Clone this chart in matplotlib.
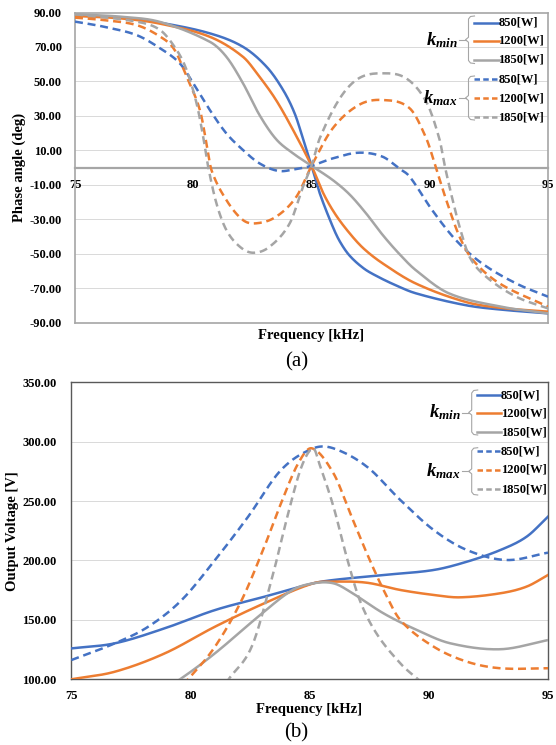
import numpy as np
import matplotlib
matplotlib.use("Agg")
import matplotlib.pyplot as plt
from matplotlib.lines import Line2D

plt.rcParams['font.family'] = ['Liberation Serif', 'DejaVu Serif']
plt.rcParams['font.weight'] = 'bold'
plt.rcParams['mathtext.fontset'] = 'custom'
plt.rcParams['mathtext.it'] = 'Liberation Serif:italic:bold'
plt.rcParams['mathtext.rm'] = 'Liberation Serif:bold'

# ---------------- data: phase angle (a) ----------------
f_pa_kmin_850 = [75, 77, 78.6, 80.7, 82.1, 83.1, 83.8, 84.3, 84.7, 85, 85.35, 85.9, 86.2, 86.6, 87.2, 87.75, 88.5, 89.4, 91.5, 93, 95]
pa_kmin_850 = [88.5, 87, 84.1, 77.9, 70.1, 58.5, 45, 31, 14, 1, -15, -34.4, -43, -51, -58.5, -63, -68, -73, -79.9, -82.5, -84.7]

f_pa_kmin_1200 = [75, 77, 78.6, 80.7, 82.1, 82.8, 83.5, 84.22, 85, 85.5, 86.0, 86.6, 87.2, 88, 89.4, 91.5, 93, 95]
pa_kmin_1200 = [88, 86.5, 83.5, 75.9, 64.3, 52.7, 39.2, 21.8, 1, -15, -27, -38, -47, -55.6, -67.3, -78, -81.5, -83.7]

f_pa_kmin_1850 = [75, 77, 78.6, 80.7, 81.4, 82.1, 82.8, 83.5, 84.22, 85, 85.9, 86.6, 87.3, 88, 88.7, 89.4, 90.8, 93, 95]
pa_kmin_1850 = [89, 87.5, 84.5, 73, 64.3, 49, 30.5, 16.5, 8.2, 1, -7.3, -15.5, -26.5, -39, -50, -59.5, -73, -80.8, -84.7]

f_pa_kmax_850 = [75, 76.2, 77.6, 78.6, 79.43, 80.0, 80.7, 81.4, 82.1, 82.8, 83.6, 84.3, 85, 85.9, 87, 88, 88.7, 89.15, 90.1, 91.1, 92.2, 93.65, 95]
pa_kmax_850 = [84.7, 81.8, 76.9, 69.2, 60.5, 48.9, 33.4, 19.8, 10.2, 2.4, -2, -1, 1, 5.3, 8.6, 6.3, -0.5, -5.3, -24.7, -42.1, -55.6, -67.3, -75]

f_pa_kmax_1200 = [75, 76.2, 77.6, 78.6, 79.2, 79.72, 80.28, 80.56, 80.77, 81.4, 82.1, 82.67, 83.5, 84.36, 85, 85.9, 87, 88, 89.15, 89.85, 90.27, 90.7, 91.26, 91.82, 92.95, 95]
pa_kmax_1200 = [87, 85.6, 82.7, 76, 68.5, 52.7, 33.4, 14, -1.5, -18.9, -30.5, -32.4, -28.6, -17, 1, 22.8, 36.3, 39.2, 34.4, 17, -0.5, -19, -40.2, -53.7, -67.3, -80.8]

f_pa_kmax_1850 = [75, 77.6, 78.6, 79.3, 79.72, 80.14, 80.42, 80.63, 80.98, 81.4, 81.97, 82.53, 83.23, 84.08, 84.64, 85, 85.35, 86.2, 87, 88, 89, 89.85, 90.4, 90.65, 90.9, 91.26, 91.68, 92.38, 93.65, 95]
pa_kmax_1850 = [89, 84.7, 79.8, 68.2, 56.6, 37.3, 17.9, 0.5, -20.8, -36.3, -46, -49.5, -46, -32.4, -11.2, 1, 17, 40.2, 51.8, 54.7, 51.8, 38.2, 17, 0, -15, -34.4, -51.8, -63.4, -75, -81.8]

# ---------------- data: output voltage (b) ----------------
f_v_kmin_850 = [75, 76.83, 78.93, 81.03, 83.1, 85.15, 86, 88.1, 90.2, 91.6, 93, 94.1, 95]
v_kmin_850 = [126, 130.3, 143, 158.3, 169.5, 180.8, 183.6, 187.8, 192, 199, 208.8, 220, 236.9]

f_v_kmin_1200 = [75, 76.83, 78.93, 81.03, 83.1, 85.15, 86, 87.4, 88.8, 90.2, 91.3, 93, 94.1, 95]
v_kmin_1200 = [100, 106.4, 121.9, 144.3, 164, 180.8, 182.2, 181.3, 175.2, 171, 169, 172.4, 178, 187.8]

f_v_kmin_1850 = [79.0, 79.56, 81.03, 82.84, 84.25, 85.15, 86, 86.7, 88.1, 89.5, 90.9, 93, 95]
v_kmin_1850 = [94, 100, 121.9, 152.7, 174.8, 180.8, 180.8, 173.7, 155.5, 141.5, 130.3, 125.3, 133]

f_v_kmax_850 = [75, 76.83, 78.23, 79.63, 81.03, 82.42, 83.8, 85.15, 86, 87.4, 88.8, 90.2, 91.6, 93.26, 95]
v_kmax_850 = [116.2, 130.3, 144.3, 166.7, 200.4, 236.9, 276.2, 294.4, 294.4, 279, 251, 225.7, 208.8, 200.4, 206.6]

f_v_kmax_1200 = [79.3, 79.9, 81.03, 82.15, 83.1, 83.8, 84.52, 85.1, 86, 86.7, 87.4, 88.1, 88.8, 90.2, 91.6, 93, 95]
v_kmax_1200 = [88, 100, 127.5, 166.7, 211.7, 248.2, 281.8, 294.4, 273.4, 239.7, 206, 175.2, 150, 127.5, 114.8, 109.3, 109.3]

f_v_kmax_1850 = [81.2, 81.6, 82.57, 83.4, 84.1, 84.66, 85.15, 85.4, 86, 86.55, 87.1, 87.8, 88.8, 89.5, 90.0]
v_kmax_1850 = [88, 100, 127.5, 183.6, 239.7, 279, 294.4, 281.8, 245.3, 203.2, 166.7, 138.7, 113.5, 100.8, 93]

series_labels = ['850[W]', '1200[W]', '1850[W]']
colors = ['#4472C4', '#ED7D31', '#A5A5A5']

x_ticks = [75, 80, 85, 90, 95]
pa_ticks = [-90, -70, -50, -30, -10, 10, 30, 50, 70, 90]
v_ticks = [100, 150, 200, 250, 300, 350]

W, H = 556, 745


def smooth(x, y, n=30):
    """Cubic Hermite drawing of the points with finite-difference tangents (Excel-like smooth line)."""
    x = np.asarray(x, float)
    y = np.asarray(y, float)
    m = np.empty_like(y)
    m[1:-1] = (y[2:] - y[:-2]) / (x[2:] - x[:-2])
    m[0] = (y[1] - y[0]) / (x[1] - x[0])
    m[-1] = (y[-1] - y[-2]) / (x[-1] - x[-2])
    xs, ys = [], []
    for i in range(len(x) - 1):
        h = x[i + 1] - x[i]
        t = np.linspace(0, 1, n, endpoint=False)
        h00 = 2 * t ** 3 - 3 * t ** 2 + 1
        h10 = t ** 3 - 2 * t ** 2 + t
        h01 = -2 * t ** 3 + 3 * t ** 2
        h11 = t ** 3 - t ** 2
        xs.append(x[i] + t * h)
        ys.append(h00 * y[i] + h10 * h * m[i] + h01 * y[i + 1] + h11 * h * m[i + 1])
    xs.append([x[-1]])
    ys.append([y[-1]])
    return np.concatenate(xs), np.concatenate(ys)


def fx(px):
    return px / W


def fy(py):
    return 1 - py / H


fig = plt.figure(figsize=(W / 100, H / 100), dpi=100)

LW = 1.8
DASH = (3.2, 1.9)

# ---------- (a) ----------
ax1 = fig.add_axes([fx(75), fy(322.5), fx(548) - fx(75), fy(12.5) - fy(322.5)])
pa_sets = [(f_pa_kmin_850, pa_kmin_850), (f_pa_kmin_1200, pa_kmin_1200), (f_pa_kmin_1850, pa_kmin_1850)]
pa_sets_max = [(f_pa_kmax_850, pa_kmax_850), (f_pa_kmax_1200, pa_kmax_1200), (f_pa_kmax_1850, pa_kmax_1850)]
for (xs, ys), c in zip(pa_sets, colors):
    sx, sy = smooth(xs, ys)
    ax1.plot(sx, sy, color=c, lw=LW, zorder=3)
for (xs, ys), c in zip(pa_sets_max, colors):
    sx, sy = smooth(xs, ys)
    ax1.plot(sx, sy, color=c, lw=LW, dashes=DASH, zorder=3)
ax1.set_xlim(75, 95)
ax1.set_ylim(-90, 90)
ax1.set_xticks(x_ticks)
ax1.set_yticks(pa_ticks)
ax1.set_yticklabels([f'{v:.2f}' for v in pa_ticks])
for v in pa_ticks[1:-1]:
    ax1.axhline(v, color='#D9D9D9', lw=0.7, zorder=1)
for s in ['top', 'left', 'right']:
    ax1.spines[s].set_color('#A6A6A6')
    ax1.spines[s].set_linewidth(1.2)
ax1.spines['bottom'].set_position(('data', 0))
ax1.spines['bottom'].set_color('#A6A6A6')
ax1.spines['bottom'].set_linewidth(1.6)
ax1.plot([0, 1], [0, 0], transform=ax1.transAxes, color='#A6A6A6', lw=1.2, clip_on=False, zorder=4)
ax1.tick_params(axis='both', length=0, labelsize=9)
ax1.tick_params(axis='x', pad=8)
ax1.tick_params(axis='y', pad=9.5)

fig.text(fx(19), fy(167.5), 'Phase angle (deg)', rotation=90, ha='center', va='center', fontsize=10.5, fontweight='bold')
fig.text(fx(311.5), fy(335), 'Frequency [kHz]', ha='center', va='center', fontsize=10.5, fontweight='bold')
fig.text(fx(296.5), fy(362), '(a)', ha='center', va='center', fontsize=15, fontweight='normal')

# ---------- (b) ----------
ax2 = fig.add_axes([fx(71.3), fy(679.3), fx(548) - fx(71.3), fy(382.3) - fy(679.3)])
v_sets = [(f_v_kmin_850, v_kmin_850), (f_v_kmin_1200, v_kmin_1200), (f_v_kmin_1850, v_kmin_1850)]
v_sets_max = [(f_v_kmax_850, v_kmax_850), (f_v_kmax_1200, v_kmax_1200), (f_v_kmax_1850, v_kmax_1850)]
for (xs, ys), c in zip(v_sets, colors):
    sx, sy = smooth(xs, ys)
    ax2.plot(sx, sy, color=c, lw=LW, zorder=3)
for (xs, ys), c in zip(v_sets_max, colors):
    sx, sy = smooth(xs, ys)
    ax2.plot(sx, sy, color=c, lw=LW, dashes=DASH, zorder=3)
ax2.set_xlim(75, 95)
ax2.set_ylim(100, 350)
ax2.set_xticks(x_ticks)
ax2.set_yticks(v_ticks)
ax2.set_yticklabels([f'{v:.2f}' for v in v_ticks])
for v in v_ticks[1:-1]:
    ax2.axhline(v, color='#D9D9D9', lw=0.7, zorder=1)
for s in ax2.spines.values():
    s.set_color('#595959')
    s.set_linewidth(1.0)
ax2.tick_params(axis='both', length=0, labelsize=9)
ax2.tick_params(axis='x', pad=8)
ax2.tick_params(axis='y', pad=10.5)

fig.text(fx(12.7), fy(531), 'Output Voltage [V]', rotation=90, ha='center', va='center', fontsize=10.5, fontweight='bold')
fig.text(fx(309.5), fy(710), 'Frequency [kHz]', ha='center', va='center', fontsize=10.5, fontweight='bold')
fig.text(fx(296.5), fy(733), '(b)', ha='center', va='center', fontsize=15, fontweight='normal')


# ---------- bracket legends ----------
def bracket_legend(x_br, top, bot, rows, klabel, dashed, line_x0, line_x1, text_x):
    mid = (top + bot) / 2
    col = '#A6A6A6'
    pts = [(x_br + 6, top), (x_br + 2, top + 0.5), (x_br, top + 3), (x_br, mid - 2.5),
           (x_br - 3, mid), (x_br, mid + 2.5), (x_br, bot - 3), (x_br + 2, bot - 0.5), (x_br + 6, bot)]
    fig.add_artist(Line2D([fx(p[0]) for p in pts], [fy(p[1]) for p in pts],
                          transform=fig.transFigure, color=col, lw=0.8))
    fig.add_artist(Line2D([fx(x_br - 10), fx(x_br - 3)], [fy(mid), fy(mid)],
                          transform=fig.transFigure, color=col, lw=0.8))
    fig.text(fx(x_br - 11), fy(mid), klabel, ha='right', va='center', fontsize=13.5)
    for py, lab, c in zip(rows, series_labels, colors):
        kw = dict(dashes=(2.2, 1.3)) if dashed else {}
        fig.add_artist(Line2D([fx(line_x0), fx(line_x1)], [fy(py), fy(py)],
                              transform=fig.transFigure, color=c, lw=1.8, **kw))
        fig.text(fx(text_x), fy(py), lab, ha='left', va='center', fontsize=9, fontweight='bold')


bracket_legend(468.5, 16, 63.5, [22.7, 40.7, 60], r'$k_{min}$', False, 474, 498.5, 498.5)
bracket_legend(468.5, 76, 120, [79.3, 98.3, 117.3], r'$k_{max}$', True, 474, 498.5, 498.5)
bracket_legend(471.7, 390, 435, [395, 413.3, 432.3], r'$k_{min}$', False, 476.7, 501, 501)
bracket_legend(471.7, 447.7, 495, [451, 470, 489], r'$k_{max}$', True, 476.7, 501, 501)

fig.savefig('out.png', dpi=100)
